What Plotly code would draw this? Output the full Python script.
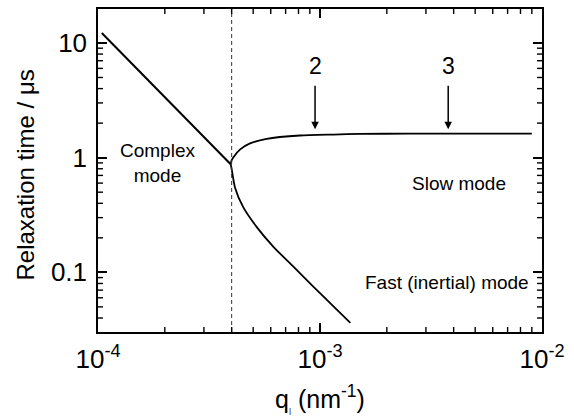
import plotly.graph_objects as go
import math

# Relaxation-time branches vs wavevector (q in nm^-1, tau in microseconds)
q_complex = [1.04e-4, 3.96e-4]
tau_complex = [12.2, 0.877]

q_slow = [3.96e-4, 3.99e-4, 4.06e-4, 4.37e-4, 4.84e-4, 5.75e-4, 8.13e-4,
          1.15e-3, 1.51e-3, 2.5e-3, 4.0e-3, 6.0e-3, 9.0e-3]
tau_slow = [0.877, 0.94, 1.00, 1.18, 1.33, 1.46, 1.56,
            1.59, 1.61, 1.62, 1.62, 1.62, 1.62]

q_fast = [3.96e-4, 4.0e-4, 4.14e-4, 4.51e-4, 5.19e-4, 6.17e-4, 7.59e-4,
          9.33e-4, 1.15e-3, 1.37e-3]
tau_fast = [0.877, 0.794, 0.550, 0.370, 0.248, 0.167, 0.112,
            0.0752, 0.0505, 0.0363]

q_crossover = 4.0e-4

# arrows marking wavevectors 2 and 3 on the slow branch
arrow_labels = ["2", "3"]
arrow_q = [9.5e-4, 3.78e-3]
arrow_tau = [1.77, 1.77]

x_tickvals = [1e-4, 1e-3, 1e-2]
x_ticktext = ["10<sup>-4</sup>", "10<sup>-3</sup>", "10<sup>-2</sup>"]
y_tickvals = [0.1, 1, 10]
y_ticktext = ["0.1", "1", "10"]

X_RANGE = [-4, -2]
Y_RANGE = [-1.52, 1.296]

FONT = "Liberation Sans, Arial, Helvetica, sans-serif"

fig = go.Figure()
line_style = dict(color="black", width=1.8)
fig.add_trace(go.Scatter(x=q_complex, y=tau_complex, mode="lines",
                         line=dict(color="black", width=2), showlegend=False))
fig.add_trace(go.Scatter(x=q_slow, y=tau_slow, mode="lines",
                         line=dict(line_style, shape="spline", smoothing=0.6),
                         showlegend=False))
fig.add_trace(go.Scatter(x=q_fast, y=tau_fast, mode="lines",
                         line=dict(line_style, shape="spline", smoothing=0.6),
                         showlegend=False))

fig.add_shape(type="line", xref="x", yref="paper",
              x0=q_crossover, x1=q_crossover, y0=0, y1=1,
              line=dict(color="#333333", width=1, dash="4px,3px"))

# minor ticks (2..9 per decade) drawn inside the frame on all four sides
minor_x = [m * 10 ** e for e in (-4, -3) for m in range(2, 10)]
minor_y = [m * 10 ** e for e in (-2, -1, 0, 1) for m in range(2, 10)
           if Y_RANGE[0] < math.log10(m * 10 ** e) < Y_RANGE[1]]
tick_line = dict(color="black", width=1.4)
for v in minor_x:
    for anchor, d in ((0, 5), (1, -5)):
        fig.add_shape(type="line", xref="x", yref="paper", ysizemode="pixel",
                      yanchor=anchor, x0=v, x1=v, y0=0, y1=d, line=tick_line)
for v in minor_y:
    for anchor, d in ((0, 5), (1, -5)):
        fig.add_shape(type="line", yref="y", xref="paper", xsizemode="pixel",
                      xanchor=anchor, y0=v, y1=v, x0=0, x1=d, line=tick_line)

axis_common = dict(type="log", showline=True, linecolor="black", linewidth=1.5,
                   mirror="allticks", ticks="inside", tickcolor="black",
                   ticklen=9, tickwidth=1.6, showgrid=False, zeroline=False,
                   tickmode="array",
                   tickfont=dict(family=FONT, size=26, color="black"))

fig.update_layout(
    xaxis=dict(axis_common, range=X_RANGE, tickvals=x_tickvals,
               ticktext=x_ticktext, ticklabelstandoff=3),
    yaxis=dict(axis_common, range=Y_RANGE, tickvals=y_tickvals,
               ticktext=y_ticktext, ticklabelstandoff=4),
)

ann = []
txt_font = dict(family=FONT, size=19, color="black")
ann.append(dict(x=math.log10(1.86e-4), y=math.log10(0.9), xref="x", yref="y",
                text="Complex<br>mode", showarrow=False, font=txt_font))
ann.append(dict(x=math.log10(4.23e-3), y=math.log10(0.60), xref="x", yref="y",
                text="Slow mode", showarrow=False, font=txt_font))
ann.append(dict(x=math.log10(3.75e-3), y=math.log10(0.081), xref="x", yref="y",
                text="Fast (inertial) mode", showarrow=False, font=txt_font))
for lab, q, t in zip(arrow_labels, arrow_q, arrow_tau):
    ann.append(dict(x=math.log10(q), y=math.log10(t), xref="x", yref="y",
                    text="", showarrow=True, arrowhead=2, arrowsize=1,
                    arrowwidth=1.5, arrowcolor="black", ax=0, ay=-45))
    ann.append(dict(x=math.log10(q), y=math.log10(t), xref="x", yref="y",
                    text=lab, showarrow=False, yshift=63,
                    font=dict(family=FONT, size=23, color="black")))

# axis titles
ann.append(dict(x=-0.164, y=0.485, xref="paper", yref="paper",
                xanchor="center", yanchor="middle",
                text="Relaxation time / \u03bcs", textangle=-90, showarrow=False,
                font=dict(family=FONT, size=24, color="black")))
ann.append(dict(x=0.5, y=-0.204, xref="paper", yref="paper",
                xanchor="center", yanchor="middle",
                text="q<sub><span style='font-size:8px'>|</span></sub> (nm<sup>-1</sup>)",
                showarrow=False, font=dict(family=FONT, size=25, color="black")))

fig.update_layout(width=574, height=416, margin=dict(l=98, r=32, t=7, b=84),
                  plot_bgcolor="white", paper_bgcolor="white",
                  annotations=ann, showlegend=False)

fig.write_html("out.html")
